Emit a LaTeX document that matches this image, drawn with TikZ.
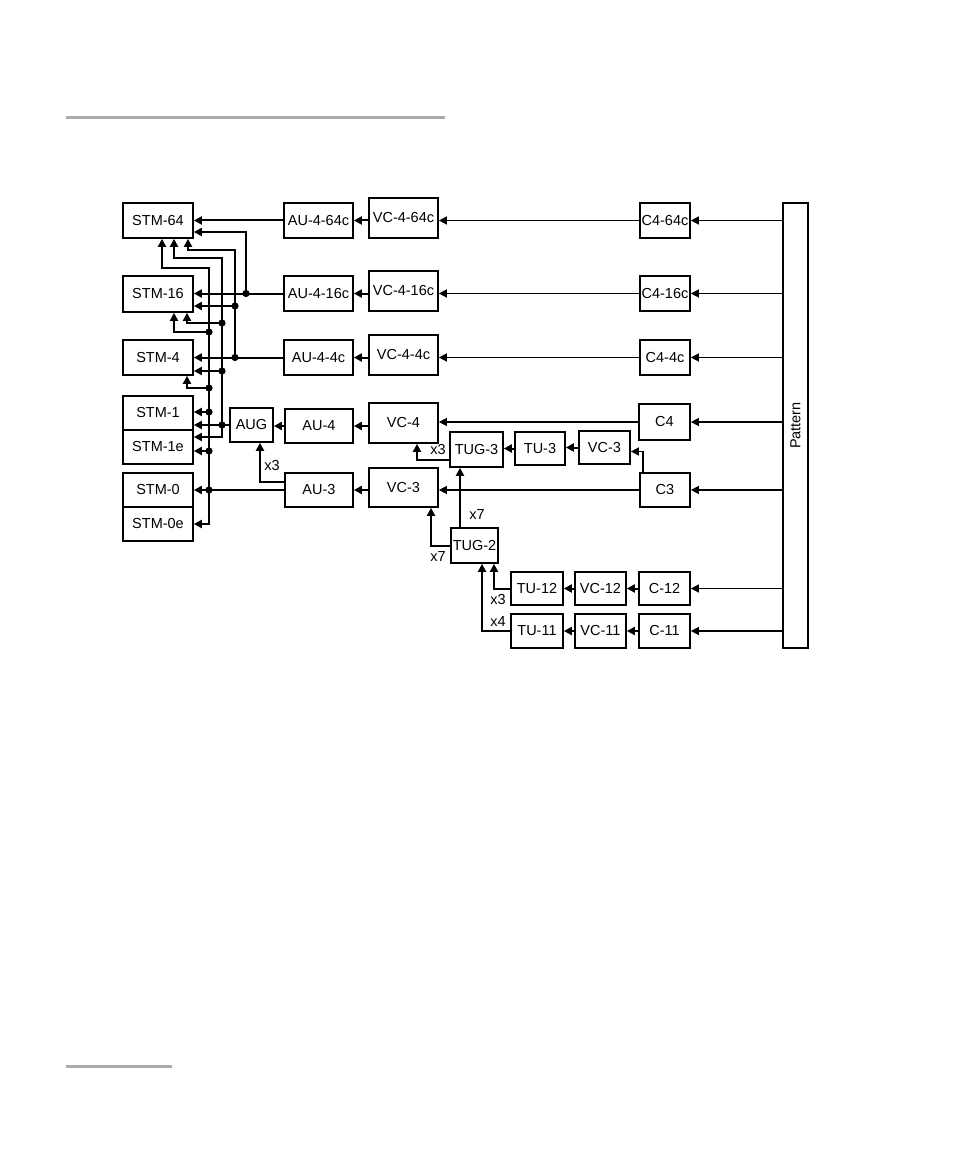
\documentclass[tikz,border=0pt]{standalone}
\usepackage{fontspec}
\usepackage{graphicx}
\setmainfont{Liberation Sans}
\usetikzlibrary{arrows.meta}
\definecolor{rulegray}{RGB}{171,171,171}
\begin{document}
\begin{tikzpicture}[x=1pt,y=-1pt,
  box/.style={draw, line width=1.7pt, inner sep=0pt, font=\fontsize{14.5}{16}\selectfont},
  arr/.style={line width=2pt, -{Triangle[length=8pt,width=8pt]}},
  thinarr/.style={line width=1.4pt, -{Triangle[length=8pt,width=8pt]}},
  lbl/.style={font=\fontsize{14.5}{16}\selectfont, inner sep=0pt},
]
\useasboundingbox (0,0) rectangle (954,1158);
\fill[rulegray] (66,116) rectangle (445,119);
\fill[rulegray] (66,1065) rectangle (172,1068);

% STM boxes
\node[box, minimum width=70pt, minimum height=35pt] (stm64) at (158,220.5) {STM-64};
\node[box, minimum width=70pt, minimum height=36pt] (stm16) at (158,294) {STM-16};
\node[box, minimum width=70pt, minimum height=35pt] (stm4) at (158,357.5) {STM-4};
\node[box, minimum width=70pt, minimum height=34pt] (stm1) at (158,413) {STM-1};
\node[box, minimum width=70pt, minimum height=34pt] (stm1e) at (158,447) {STM-1e};
\node[box, minimum width=70pt, minimum height=34pt] (stm0) at (158,490) {STM-0};
\node[box, minimum width=70pt, minimum height=34pt] (stm0e) at (158,524) {STM-0e};

% concatenated rows
\node[box, minimum width=69pt, minimum height=35pt] (au464c) at (318.5,220.5) {AU-4-64c};
\node[box, minimum width=69pt, minimum height=40pt] (vc464c) at (403.5,218) {VC-4-64c};
\node[box, minimum width=50pt, minimum height=35pt] (c464c) at (665,220.5) {C4-64c};
\node[box, minimum width=69pt, minimum height=35pt] (au416c) at (318.5,293.5) {AU-4-16c};
\node[box, minimum width=69pt, minimum height=40pt] (vc416c) at (403.5,291) {VC-4-16c};
\node[box, minimum width=50pt, minimum height=35pt] (c416c) at (665,293.5) {C4-16c};
\node[box, minimum width=69pt, minimum height=35pt] (au44c) at (318.5,357.5) {AU-4-4c};
\node[box, minimum width=69pt, minimum height=40pt] (vc44c) at (403.5,355) {VC-4-4c};
\node[box, minimum width=50pt, minimum height=35pt] (c44c) at (665,357.5) {C4-4c};

% AU-4 / AU-3 rows
\node[box, minimum width=43pt, minimum height=34pt] (aug) at (251.5,425) {AUG};
\node[box, minimum width=68pt, minimum height=34pt] (au4) at (319,426) {AU-4};
\node[box, minimum width=69pt, minimum height=40pt] (vc4) at (403.5,423) {VC-4};
\node[box, minimum width=51pt, minimum height=36pt] (c4) at (664.5,422) {C4};
\node[box, minimum width=53pt, minimum height=35pt] (tug3) at (476.5,449.5) {TUG-3};
\node[box, minimum width=50pt, minimum height=33pt] (tu3) at (540,448.5) {TU-3};
\node[box, minimum width=51pt, minimum height=33pt] (vc3r) at (604.5,447.5) {VC-3};
\node[box, minimum width=68pt, minimum height=34pt] (au3) at (319,490) {AU-3};
\node[box, minimum width=69pt, minimum height=39pt] (vc3) at (403.5,487.5) {VC-3};
\node[box, minimum width=50pt, minimum height=34pt] (c3) at (665,490) {C3};

% lower tributaries
\node[box, minimum width=47pt, minimum height=35pt] (tug2) at (474.5,545.5) {TUG-2};
\node[box, minimum width=52pt, minimum height=33pt] (tu12) at (537,588.5) {TU-12};
\node[box, minimum width=51pt, minimum height=33pt] (vc12) at (600.5,588.5) {VC-12};
\node[box, minimum width=51pt, minimum height=33pt] (c12) at (664.5,588.5) {C-12};
\node[box, minimum width=52pt, minimum height=34pt] (tu11) at (537,631) {TU-11};
\node[box, minimum width=51pt, minimum height=34pt] (vc11) at (600.5,631) {VC-11};
\node[box, minimum width=51pt, minimum height=34pt] (c11) at (664.5,631) {C-11};

% pattern
\node[box, minimum width=25pt, minimum height=445pt] (pattern) at (795.5,425.5) {\rotatebox{90}{Pattern}};

% pattern -> C
\foreach \n in {c464c,c416c,c44c,c4,c3,c12,c11}
  \draw[thinarr] (pattern.west |- \n) -- (\n.east);

% C -> VC
\draw[thinarr] (c464c.west) -- (vc464c.east |- c464c.west);
\draw[thinarr] (c416c.west) -- (vc416c.east |- c416c.west);
\draw[thinarr] (c44c.west) -- (vc44c.east |- c44c.west);
\draw[thinarr] (c4.west) -- (vc4.east |- c4.west);
\draw[thinarr] (c3.west) -- (vc3.east |- c3.west);
\draw[arr] (c12.west) -- (vc12.east);
\draw[arr] (c11.west) -- (vc11.east);

% VC -> AU / TU
\draw[arr] (vc464c.west |- au464c) -- (au464c.east);
\draw[arr] (vc416c.west |- au416c) -- (au416c.east);
\draw[arr] (vc44c.west |- au44c) -- (au44c.east);
\draw[arr] (vc4.west |- au4) -- (au4.east);
\draw[arr] (vc3.west |- au3) -- (au3.east);
\draw[arr] (vc12.west) -- (tu12.east);
\draw[arr] (vc11.west) -- (tu11.east);

% C3 -> VC-3 -> TU-3 -> TUG-3 -> VC-4
\draw[thinarr] ([xshift=-22pt]c3.north) |- ([yshift=-4pt]vc3r.east);
\draw[arr] (vc3r.west) -- (tu3.east |- vc3r.west);
\draw[arr] (tu3.west) -- (tug3.east |- tu3.west);
\draw[arr] ([yshift=-10.5pt]tug3.west) -| ([xshift=13.5pt]vc4.south);
\node[lbl] (lx3a) at (438,450) {x3};

% TUG-2
\coordinate (t2a) at ([xshift=-14.5pt]tug2.north);
\draw[arr] (t2a) -- (t2a |- tug3.south);
\node[lbl] (lx7a) at (477,515) {x7};
\draw[arr] (tug2.west) -| ([xshift=27.5pt]vc3.south);
\node[lbl] (lx7b) at (438,557) {x7};
\draw[arr] (tu12.west) -| ([xshift=19.5pt]tug2.south);
\node[lbl] (lx3b) at (498,600) {x3};
\draw[arr] (tu11.west) -| ([xshift=7.5pt]tug2.south);
\node[lbl] (lx4) at (498,622) {x4};

% AU -> STM / AUG
\draw[arr] (au464c.west) -- (stm64.east |- au464c.west);
\draw[arr] (au416c.west) -- (stm16.east |- au416c.west);
\draw[arr] (au44c.west) -- (stm4.east |- au44c.west);
\draw[arr] (au4.west) -- (aug.east |- au4.west);
\draw[arr] (aug.west) -- (stm1.east |- aug.west);
\draw[arr] (au3.west) -- (stm0.east |- au3.west);
\draw[arr] ([yshift=8pt]au3.west) -| ([xshift=8.5pt]aug.south);
\node[lbl] (lx3c) at (272,466) {x3};

% junctions
\coordinate (jD) at (246,293.5);
\coordinate (jC) at (235,357.5);
\coordinate (jB) at (222,425);
\coordinate (jA) at (209,490);
\coordinate (dA1) at (209,332);
\coordinate (dA2) at (209,388);
\coordinate (dA3) at (209,412);
\coordinate (dA4) at (209,451);
\coordinate (dB1) at (222,323);
\coordinate (dB2) at (222,371);
\coordinate (dC1) at (235,306);

% buses
\draw[arr] (jD) |- ([yshift=-11.5pt]stm64.east);
\draw[arr] (jC) -- (235,250) -| ([xshift=30pt]stm64.south);
\draw[arr] (jB) -- (222,258) -| ([xshift=16pt]stm64.south);
\draw[arr] (jA) -- (209,268) -| ([xshift=4pt]stm64.south);
\draw[arr] (jA) |- (stm0e.east);
\draw[arr] (jB) |- ([yshift=10pt]stm1e.east);
\draw[arr] (dC1) -- (stm16.east |- dC1);
\draw[arr] (dB1) -| ([xshift=29pt]stm16.south);
\draw[arr] (dA1) -| ([xshift=16pt]stm16.south);
\draw[arr] (dB2) -- (stm4.east |- dB2);
\draw[arr] (dA2) -| ([xshift=29pt]stm4.south);
\draw[arr] (dA3) -- (stm1.east |- dA3);
\draw[arr] (dA4) -- (stm1e.east |- dA4);

\foreach \p in {jA,jB,jC,jD,dA1,dA2,dA3,dA4,dB1,dB2,dC1}
  \fill (\p) circle (3.6pt);
\end{tikzpicture}
\end{document}
